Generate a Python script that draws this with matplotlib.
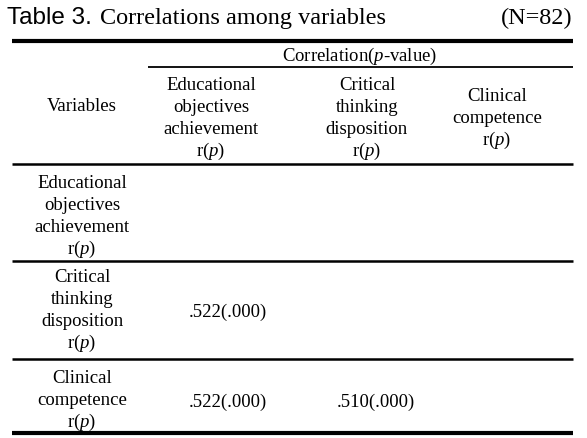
import matplotlib
matplotlib.use("Agg")
import matplotlib.pyplot as plt

plt.rcParams['mathtext.fontset'] = 'custom'
plt.rcParams['mathtext.rm'] = 'Liberation Serif'
plt.rcParams['mathtext.it'] = 'Liberation Serif:italic'

title_prefix = "Table 3."
title_text = "Correlations among variables"
sample_note = "(N=82)"
group_header = "Correlation($p$-value)"
corner_header = "Variables"
col_labels = ["Educational\nobjectives\nachievement\nr($p$)",
              "Critical\nthinking\ndisposition\nr($p$)",
              "Clinical\ncompetence\nr($p$)"]
row_labels = ["Educational\nobjectives\nachievement\nr($p$)",
              "Critical\nthinking\ndisposition\nr($p$)",
              "Clinical\ncompetence\nr($p$)"]
r_values = [[None, None, None],
            [".522", None, None],
            [".522", ".510", None]]
p_values = [[None, None, None],
            [".000", None, None],
            [".000", ".000", None]]

W, H = 587, 439
fig = plt.figure(figsize=(W / 100, H / 100), dpi=100)
ax = fig.add_axes([0, 0, 1, 1])
ax.set_xlim(0, W)
ax.set_ylim(H, 0)
ax.axis('off')

serif = 'Liberation Serif'
fs = 13.5
LINE = 22.0
BASE = 6.0  # baseline offset below visual centre of a line


def stacked(x, yc, label):
    lines = label.split("\n")
    n = len(lines)
    for k, s in enumerate(lines):
        y = yc + (k - (n - 1) / 2) * LINE + BASE
        ax.text(x, y, s, family=serif, fontsize=fs, ha='center', va='baseline')


# Title
ax.text(7, 24, title_prefix, family='Liberation Sans', fontsize=17.5, va='baseline', ha='left')
ax.text(100, 24, title_text, family=serif, fontsize=17.5, va='baseline', ha='left')
ax.text(573, 24, sample_note, family=serif, fontsize=17.5, va='baseline', ha='right')

# Rules
x0, x1 = 12, 573
ax.plot([x0, x1], [42, 42], color='black', lw=3.0, solid_capstyle='butt')
ax.plot([148, x1], [68, 68], color='black', lw=1.3, solid_capstyle='butt')
for yl in [165, 262, 360]:
    ax.plot([x0, x1], [yl, yl], color='black', lw=1.8, solid_capstyle='butt')
ax.plot([x0, x1], [434, 434], color='black', lw=3.0, solid_capstyle='butt')

col_x = [82, 211, 367, 497]
val_x = [228, 376, 500]

ax.text(360, 55 + BASE, group_header, family=serif, fontsize=fs, ha='center', va='baseline')
stacked(col_x[0], 105, corner_header)
for j, lab in enumerate(col_labels):
    stacked(col_x[j + 1], 117, lab)

row_centers = [215, 309, 399]
for i, lab in enumerate(row_labels):
    stacked(col_x[0], row_centers[i], lab)
    for j in range(3):
        r = r_values[i][j]
        p = p_values[i][j]
        if r is not None:
            ax.text(val_x[j], row_centers[i] + 2 + BASE, f"{r}({p})", family=serif, fontsize=fs,
                    ha='center', va='baseline')

fig.savefig("out.png", dpi=100)
